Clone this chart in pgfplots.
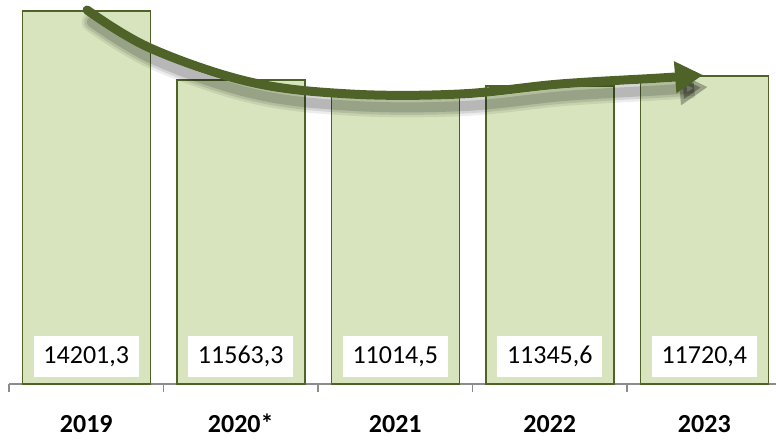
\documentclass[border=0pt]{standalone}
\usepackage{pgfplots}
\pgfplotsset{compat=1.18}
\usepackage{pgfplotstable}
\usepackage{fontspec}
\setmainfont{Carlito}
\usetikzlibrary{arrows.meta}
\definecolor{barfill}{HTML}{D7E4BD}
\definecolor{bardraw}{HTML}{4F6228}
\definecolor{arrowc}{HTML}{4F6228}
\definecolor{axisgray}{HTML}{8C8C8C}
\pgfplotstableread{
x v
0 14201.3
1 11563.3
2 11014.5
3 11345.6
4 11720.4
}\datatable
\tikzset{shadowpath/.style={black, line cap=round, -{Triangle[length=28pt,width=30pt]}}}
\begin{document}
\begin{tikzpicture}
\begin{axis}[
  scale only axis,
  width=767pt, height=384pt,
  xmin=-0.5, xmax=4.464,
  ymin=0, ymax=14617,
  axis y line=none,
  axis x line*=bottom,
  x axis line style={axisgray, line width=1.3pt, -},
  ybar, bar width=128pt, bar shift=0pt,
  xtick={0,1,2,3,4},
  xticklabels={2019,2020*,2021,2022,2023},
  major tick length=0pt,
  xticklabel style={font=\bfseries\fontsize{26}{26}\selectfont, anchor=base, yshift=-48pt},
  extra x ticks={-0.5,0.5,1.5,2.5,3.5},
  extra x tick labels={},
  extra x tick style={major tick length=8pt, tick align=outside, tick style={axisgray, line width=1.3pt}},
  clip=false,
  /pgf/number format/assume math mode=true,
]
\addplot[fill=barfill, draw=bardraw, line width=1.5pt] table[x=x, y=v] {\datatable};
\addplot[draw=none, fill=none,
  nodes near coords={\pgfmathprintnumber[fixed, fixed zerofill, precision=1, use comma, 1000 sep={}]{\pgfplotspointmeta}},
  nodes near coords align={center},
  every node near coord/.append style={fill=white, minimum width=105pt, minimum height=41pt, inner sep=0pt, font=\fontsize{26}{26}\selectfont, text=black, anchor=center},
  point meta=explicit]
  table[x=x, y expr=1047, meta=v] {\datatable};
% decorative trend arrow: soft shadow built from several translucent strokes
\draw[shadowpath, opacity=0.07, line width=20pt]
  plot[smooth, tension=0.6] coordinates {(axis cs:0.035,13780) (axis cs:0.443,12333) (axis cs:1.090,11039) (axis cs:1.737,10582) (axis cs:2.449,10582) (axis cs:3.096,10963) (axis cs:3.744,11191) (axis cs:4.022,11305)};
\draw[shadowpath, opacity=0.10, line width=15pt]
  plot[smooth, tension=0.6] coordinates {(axis cs:0.035,13780) (axis cs:0.443,12333) (axis cs:1.090,11039) (axis cs:1.737,10582) (axis cs:2.449,10582) (axis cs:3.096,10963) (axis cs:3.744,11191) (axis cs:4.022,11305)};
\draw[shadowpath, opacity=0.14, line width=10pt]
  plot[smooth, tension=0.6] coordinates {(axis cs:0.035,13780) (axis cs:0.443,12333) (axis cs:1.090,11039) (axis cs:1.737,10582) (axis cs:2.449,10582) (axis cs:3.096,10963) (axis cs:3.744,11191) (axis cs:4.022,11305)};
\draw[arrowc, line width=9pt, line cap=round, -{Triangle[length=28pt,width=30pt]}]
  plot[smooth, tension=0.6] coordinates {(axis cs:0.005,14237) (axis cs:0.413,12790) (axis cs:1.060,11496) (axis cs:1.707,11039) (axis cs:2.419,11039) (axis cs:3.066,11420) (axis cs:3.714,11648) (axis cs:3.992,11762)};
\end{axis}
\pgfresetboundingbox
\path ([shift={(-9pt,-55pt)}]current axis.south west) rectangle (current axis.north east);
\end{tikzpicture}
\end{document}
